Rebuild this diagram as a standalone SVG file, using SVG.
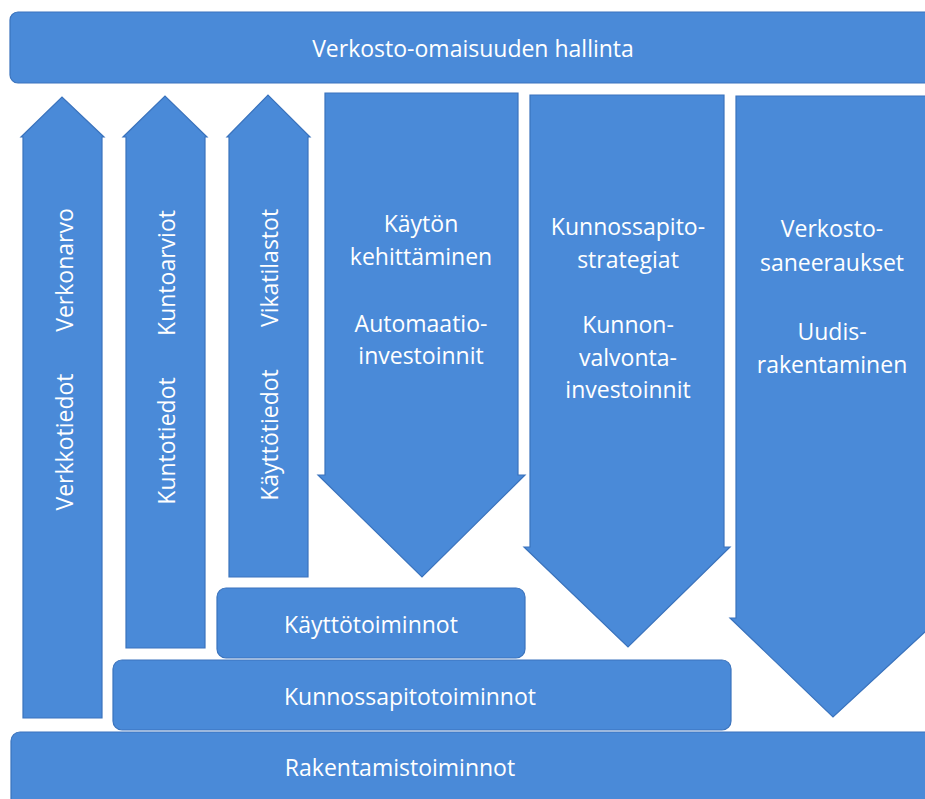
<svg xmlns="http://www.w3.org/2000/svg" width="925" height="799" viewBox="0 0 925 799">
<defs>
<style>
.s{fill:#4a8ad8;stroke:#3a73bd;stroke-width:1.2;stroke-linejoin:miter}
.t{fill:#ffffff;font-family:"Open Sans","Liberation Sans",sans-serif;font-size:23px;text-anchor:middle}
</style>
<filter id="glow" x="-5%" y="-5%" width="110%" height="110%">
<feGaussianBlur in="SourceAlpha" stdDeviation="2"/>
<feComponentTransfer><feFuncA type="linear" slope="0.25"/></feComponentTransfer>
<feMerge><feMergeNode/><feMergeNode in="SourceGraphic"/></feMerge>
</filter>
</defs>
<rect width="925" height="799" fill="#ffffff"/>

<g id="verkosto-omaisuuden-hallinta">
<rect class="s" x="10" y="12" width="935" height="71" rx="8"/>
<text class="t" x="473" y="57">Verkosto-omaisuuden hallinta</text>
</g>

<g id="arrow-verkko">
<path class="s" d="M23,718 L23,137 L21,137 L62,97 L104,137 L102,137 L102,718 Z"/>
<text class="t" transform="translate(73,442) rotate(-90)" x="0" y="0">Verkkotiedot</text>
<text class="t" transform="translate(73,270) rotate(-90)" x="0" y="0">Verkonarvo</text>
</g>

<g id="arrow-kunto">
<path class="s" d="M126,648 L126,137 L123,137 L165,96 L207,137 L205,137 L205,648 Z"/>
<text class="t" transform="translate(175,441) rotate(-90)" x="0" y="0">Kuntotiedot</text>
<text class="t" transform="translate(175,273) rotate(-90)" x="0" y="0">Kuntoarviot</text>
</g>

<g id="arrow-kaytto">
<path class="s" d="M229,577 L229,137 L227,137 L268,95 L310,137 L308,137 L308,577 Z"/>
<text class="t" transform="translate(278,435) rotate(-90)" x="0" y="0">Käyttötiedot</text>
<text class="t" transform="translate(278,268) rotate(-90)" x="0" y="0">Vikatilastot</text>
</g>

<g id="arrow-kaytonkehittaminen">
<path class="s" d="M325,93 L518,93 L518,475 L525,475 L422,577 L318,475 L325,475 Z"/>
<text class="t" x="421" y="232">Käytön</text>
<text class="t" x="421" y="265">kehittäminen</text>
<text class="t" x="421" y="332">Automaatio-</text>
<text class="t" x="421" y="364">investoinnit</text>
</g>

<g id="arrow-kunnossapitostrategiat">
<path class="s" d="M530,95 L724,95 L724,547 L730,547 L628,647 L524,547 L530,547 Z"/>
<text class="t" x="628" y="235">Kunnossapito-</text>
<text class="t" x="628" y="268">strategiat</text>
<text class="t" x="628" y="333">Kunnon-</text>
<text class="t" x="628" y="366">valvonta-</text>
<text class="t" x="628" y="398">investoinnit</text>
</g>

<g id="arrow-verkostosaneeraukset">
<path class="s" d="M736,96 L935,96 L935,618 L940,618 L833,717 L730,618 L736,618 Z"/>
<text class="t" x="832" y="237">Verkosto-</text>
<text class="t" x="832" y="271">saneeraukset</text>
<text class="t" x="832" y="340">Uudis-</text>
<text class="t" x="832" y="373">rakentaminen</text>
</g>

<g id="kayttotoiminnot">
<rect class="s" x="217" y="588" width="308" height="70" rx="9"/>
<text class="t" x="371" y="633">Käyttötoiminnot</text>
</g>

<g id="kunnossapitotoiminnot">
<rect class="s" x="113" y="660" width="618" height="70" rx="9"/>
<text class="t" x="410" y="705">Kunnossapitotoiminnot</text>
</g>

<g id="rakentamistoiminnot">
<rect class="s" x="11" y="732" width="935" height="80" rx="9"/>
<text class="t" x="400" y="776">Rakentamistoiminnot</text>
</g>

<g id="connectors"></g>
</svg>
